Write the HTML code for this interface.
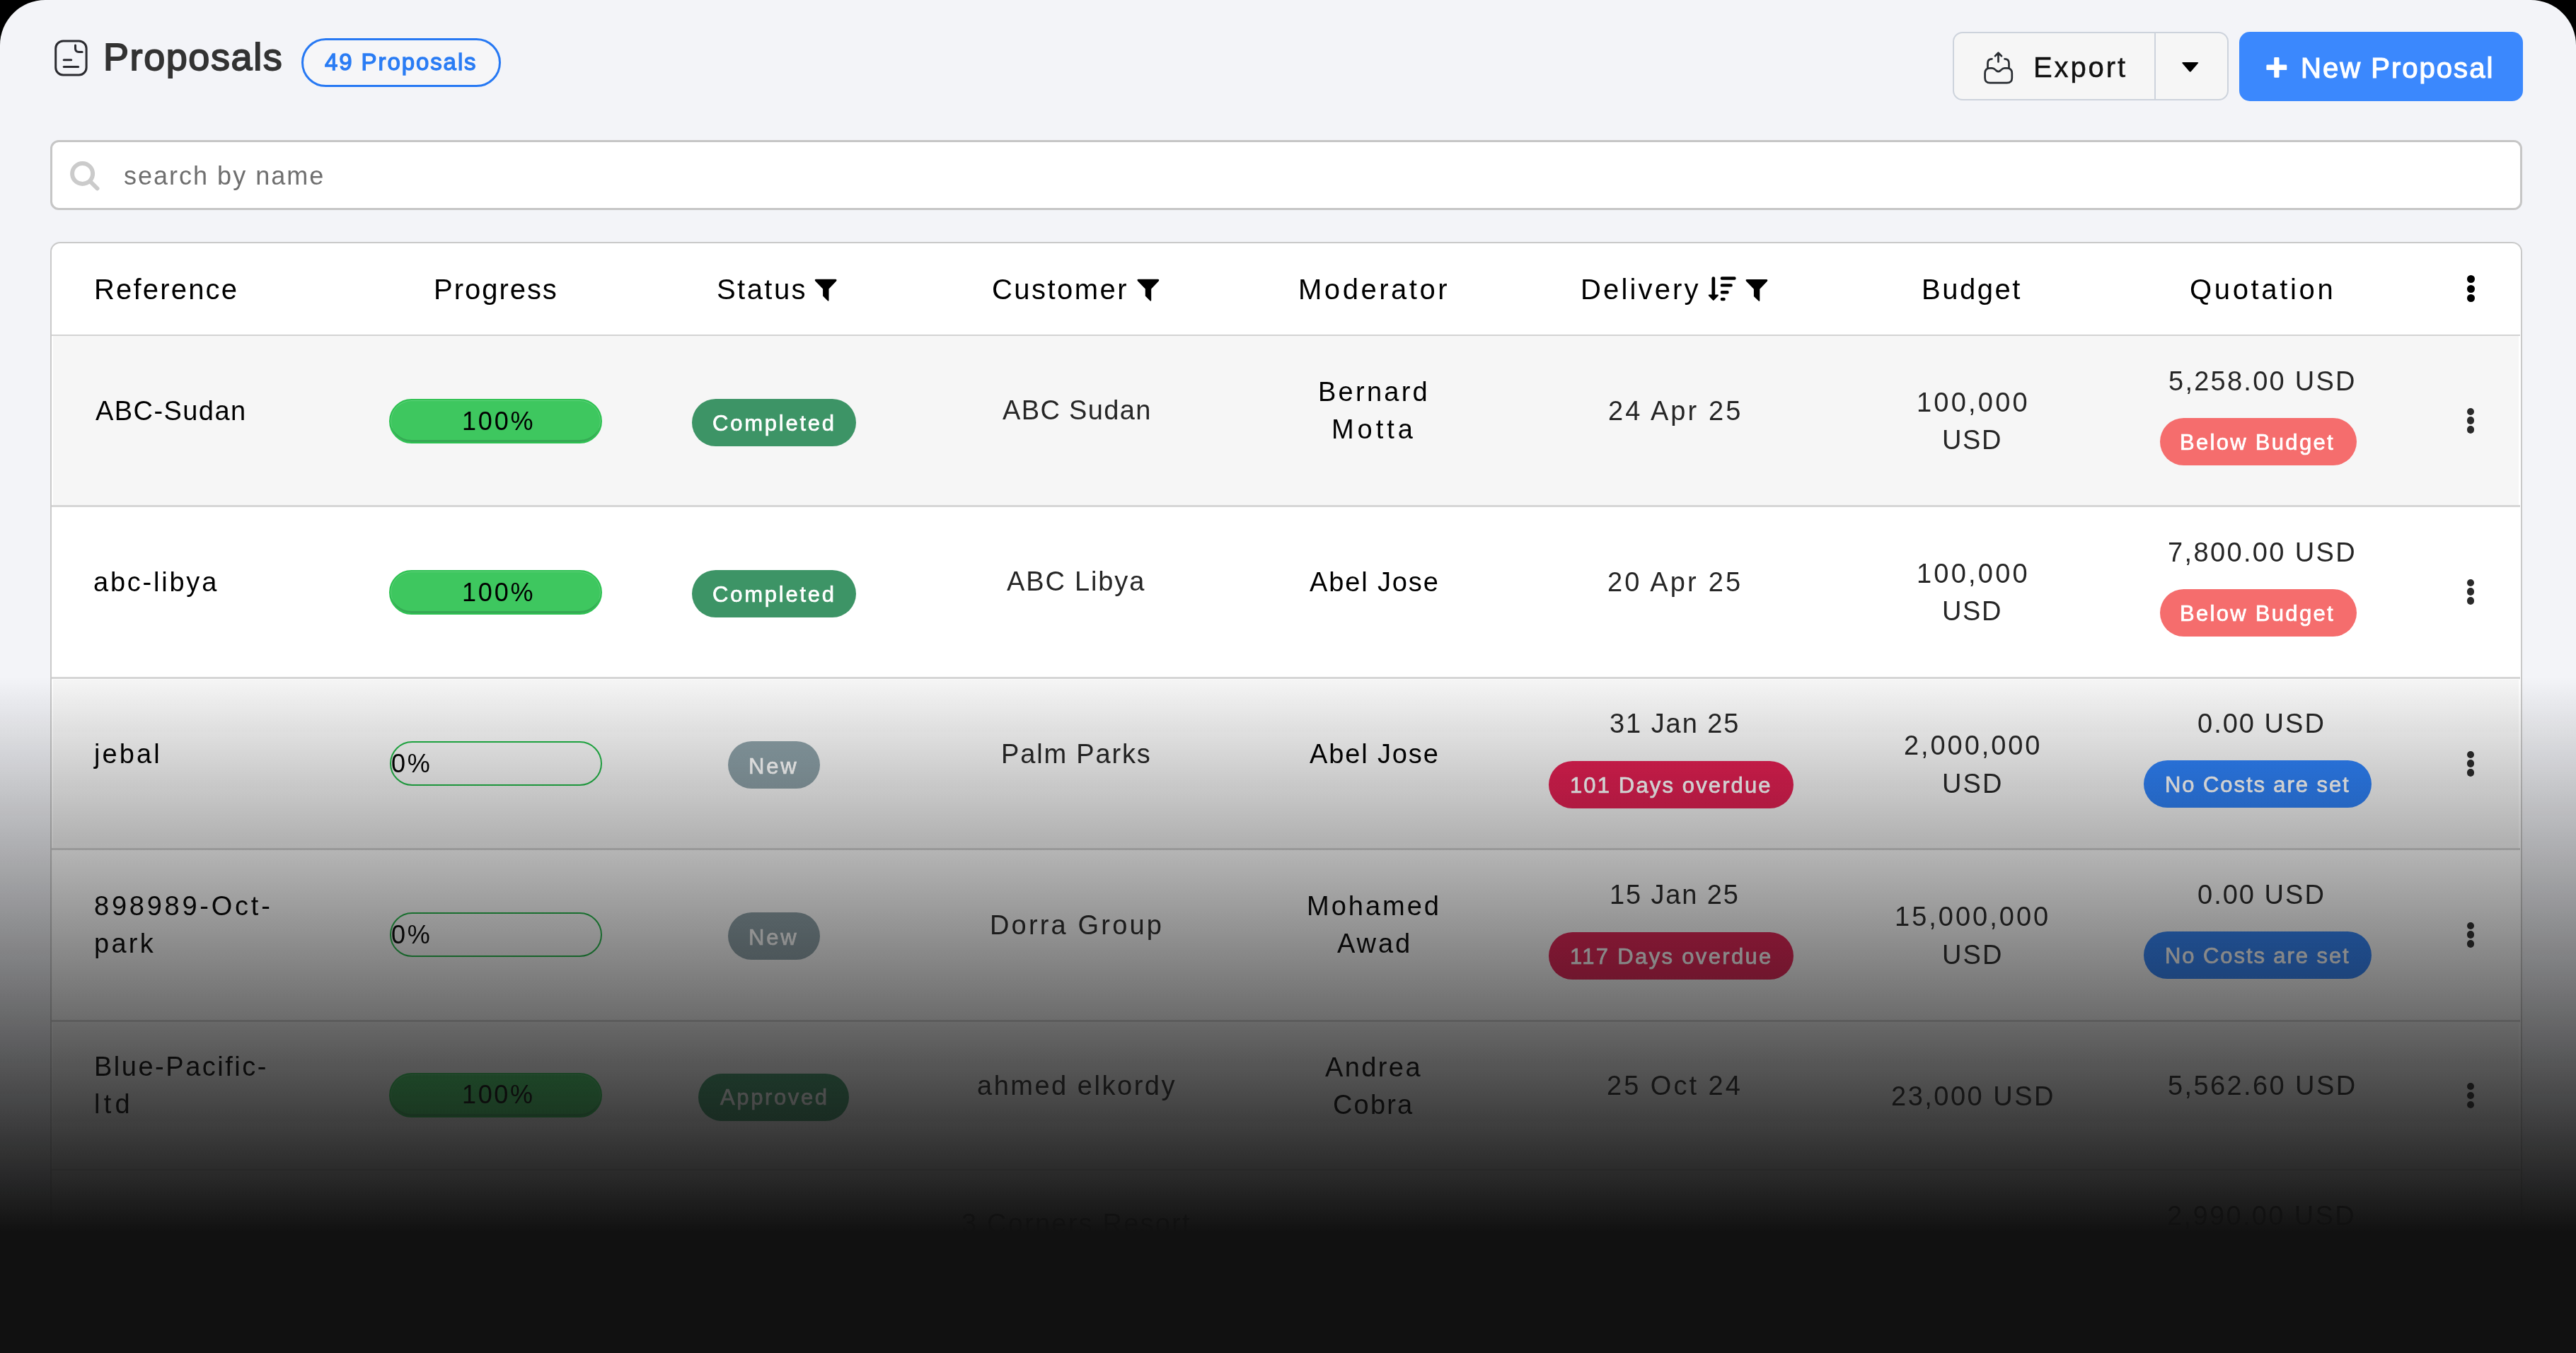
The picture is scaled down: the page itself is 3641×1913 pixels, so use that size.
<!DOCTYPE html>
<html><head><meta charset="utf-8"><title>Proposals</title>
<style>
html,body{margin:0;padding:0;}
body{width:3641px;height:1913px;background:#000;overflow:hidden;position:relative;font-family:"Liberation Sans", sans-serif;}
#page{position:absolute;left:0;top:0;width:3641px;height:1913px;background:#f3f4f8;border-radius:64px 64px 0 0;overflow:hidden;}
.t{position:absolute;white-space:nowrap;font-family:"Liberation Sans", sans-serif;will-change:transform;}
.bar{position:absolute;box-sizing:border-box;border:2px solid #2dc151;border-radius:32px;background:#3ec75f;box-shadow:inset 0 -4px 0 -1px #36a954, inset 0 0 0 1px rgba(255,255,255,0.18);}
.bar0{position:absolute;box-sizing:border-box;border:2.8px solid #1fb545;border-radius:32px;}
.badge{position:absolute;border-radius:34px;}
.dot{position:absolute;border-radius:50%;}
#overlay{position:absolute;left:0;top:0;width:3641px;height:1913px;background:linear-gradient(to bottom, rgba(17,17,17,0) 957px, rgba(17,17,17,1) 1742px);}
</style></head>
<body>
<div id="page">

  <!-- badge 49 proposals -->
  <div style="position:absolute;left:426px;top:54px;width:282px;height:69px;box-sizing:border-box;border:3px solid #2678f3;border-radius:35px;background:#f6f6f8"></div>

  <!-- export group -->
  <div style="position:absolute;left:2760px;top:45px;width:389.5px;height:97px;box-sizing:border-box;border:2.5px solid #cdd3dc;border-radius:14px;background:#f6f6f6"></div>
  <div style="position:absolute;left:3045.3px;top:46px;width:2.2px;height:95px;background:#cdd3dc"></div>
  <!-- new proposal -->
  <div style="position:absolute;left:3165px;top:45px;width:401px;height:97.5px;border-radius:15px;background:#3b88fd"></div>

  <!-- search box -->
  <div style="position:absolute;left:70.5px;top:197.8px;width:3494px;height:98.8px;box-sizing:border-box;border:3px solid #c6c6c6;border-radius:12px;background:#fff"></div>

  <!-- title icon -->
  <svg style="position:absolute;left:0;top:0" width="3641" height="300" viewBox="0 0 3641 300">
    <g fill="none" stroke="#2b2b30" stroke-width="3" stroke-linecap="round" stroke-linejoin="round">
      <rect x="78.7" y="58" width="43.4" height="48" rx="10.5" ry="10.5"/>
      <path d="M106.5,64 V68.5 Q106.5,73.5 111.5,73.5 H116.2"/>
      <path d="M90.2,84.8 H100.7"/>
      <path d="M90.2,94.4 H110.6"/>
    </g>
    <!-- export icon -->
    <g fill="none" stroke="#292d32" stroke-width="2.7" stroke-linecap="round" stroke-linejoin="round">
      <path d="M2812.8,96.3 H2815.6 C2818.8,96.3 2819.9,98.3 2821.7,99.9 C2823.4,101.3 2825.6,101.3 2827.3,99.9 C2829.1,98.3 2830.2,96.3 2833.4,96.3 H2836.6 Q2843.8,96.3 2843.8,103.5 V109.9 Q2843.8,117.1 2836.6,117.1 H2812.8 Q2805.6,117.1 2805.6,109.9 V103.5 Q2805.6,96.3 2812.8,96.3 Z"/>
      <path d="M2809.5,96 V89.3 Q2809.5,83.3 2815.5,83.3"/>
      <path d="M2839.5,96 V89.3 Q2839.5,83.3 2833.5,83.3"/>
      <path d="M2824.5,87.4 V75 M2820,79.2 L2824.5,74.7 L2829,79.2"/>
    </g>
    <!-- caret -->
    <path d="M3085.5,88 H3106 Q3108,88 3106.8,89.6 L3096.9,101 Q3095.7,102.2 3094.5,101 L3084.6,89.6 Q3083.4,88 3085.5,88 Z" fill="#000"/>
    <!-- plus -->
    <path d="M3214.2,82.2 Q3214.2,81 3215.4,81 H3220.3 Q3221.5,81 3221.5,82.2 V91.6 H3231.1 Q3232.3,91.6 3232.3,92.8 V97.9 Q3232.3,99.1 3231.1,99.1 H3221.5 V108.5 Q3221.5,109.7 3220.3,109.7 H3215.4 Q3214.2,109.7 3214.2,108.5 V99.1 H3204.6 Q3203.4,99.1 3203.4,97.9 V92.8 Q3203.4,91.6 3204.6,91.6 H3214.2 Z" fill="#fff"/>
    <!-- search icon -->
    <g fill="none" stroke="#cbcbcb" stroke-width="6" stroke-linecap="round">
      <circle cx="116.6" cy="245.5" r="14.5"/>
      <path d="M127.5,256.5 L137.5,266.5"/>
    </g>
  </svg>

  <!-- table card -->
  <div style="position:absolute;left:70.5px;top:342px;width:3494px;height:1600px;box-sizing:border-box;border:2.6px solid #c9c9c9;border-radius:14px;background:#fff"></div>
  <!-- row backgrounds -->
  <div style="position:absolute;left:75px;top:475px;width:3485px;height:240px;background:#f6f6f6"></div>
  <div style="position:absolute;left:75px;top:960.5px;width:3485px;height:239.5px;background:#f6f6f6"></div>
  <div style="position:absolute;left:75px;top:1445.5px;width:3485px;height:207px;background:#f6f6f6"></div>
  <!-- row borders -->
  <div style="position:absolute;left:73px;top:472.5px;width:3489px;height:2.5px;background:#d3d3d3"></div>
  <div style="position:absolute;left:73px;top:714px;width:3489px;height:2.5px;background:#d6d6d6"></div>
  <div style="position:absolute;left:73px;top:957px;width:3489px;height:2.5px;background:#d6d6d6"></div>
  <div style="position:absolute;left:73px;top:1199px;width:3489px;height:2.5px;background:#d6d6d6"></div>
  <div style="position:absolute;left:73px;top:1442px;width:3489px;height:2.5px;background:#d6d6d6"></div>
  <div style="position:absolute;left:73px;top:1652.5px;width:3489px;height:2.5px;background:#d6d6d6"></div>

  <div class="bar" style="left:550px;top:564.3px;width:301px;height:63px"></div>
<div class="badge" style="left:977.8px;top:564.3px;width:232.5px;height:67px;background:#3d9466"></div>
<div class="badge" style="left:3052.6px;top:591.3px;width:278.7000000000003px;height:67px;background:#f56d6d"></div>
<div class="bar" style="left:550px;top:806.3px;width:301px;height:63px"></div>
<div class="badge" style="left:977.8px;top:806.3px;width:232.5px;height:67px;background:#3d9466"></div>
<div class="badge" style="left:3052.6px;top:833.3px;width:278.7000000000003px;height:67px;background:#f56d6d"></div>
<div class="bar0" style="left:550.5px;top:1048.4px;width:300px;height:62.5px"></div>
<div class="badge" style="left:1028.9px;top:1048.4px;width:130.5999999999999px;height:67px;background:#8b9fa6"></div>
<div class="badge" style="left:2188.6px;top:1075.5px;width:346.2000000000003px;height:67px;background:#e11d50"></div>
<div class="badge" style="left:3030px;top:1075.4px;width:322.3000000000002px;height:67px;background:#2c80f8"></div>
<div class="bar0" style="left:550.5px;top:1290.4px;width:300px;height:62.5px"></div>
<div class="badge" style="left:1028.9px;top:1290.4px;width:130.5999999999999px;height:67px;background:#8b9fa6"></div>
<div class="badge" style="left:2188.6px;top:1317.5px;width:346.2000000000003px;height:67px;background:#e11d50"></div>
<div class="badge" style="left:3030px;top:1317.4px;width:322.3000000000002px;height:67px;background:#2c80f8"></div>
<div class="bar" style="left:550px;top:1516.7px;width:301px;height:63px"></div>
<div class="badge" style="left:986.8px;top:1518px;width:213.20000000000005px;height:67px;background:#3d9466"></div>

  <!-- header icons -->
  <svg style="position:absolute;left:0;top:300px" width="3641" height="200" viewBox="0 300 3641 200">
    <path transform="translate(1151.6 394.8)" d="M1.6,0 H29.4 Q31.6,0.3 30.6,2.4 L19.9,13.6 V29.6 Q19.7,31.6 18.2,30.4 L11.5,23.8 V13.6 L0.6,2.4 Q-0.6,0.3 1.6,0 Z" fill="#000"/>
    <path transform="translate(1607.3 394.8)" d="M1.6,0 H29.4 Q31.6,0.3 30.6,2.4 L19.9,13.6 V29.6 Q19.7,31.6 18.2,30.4 L11.5,23.8 V13.6 L0.6,2.4 Q-0.6,0.3 1.6,0 Z" fill="#000"/>
    <path transform="translate(2467.4 395.1)" d="M1.6,0 H29.4 Q31.6,0.3 30.6,2.4 L19.9,13.6 V29.6 Q19.7,31.6 18.2,30.4 L11.5,23.8 V13.6 L0.6,2.4 Q-0.6,0.3 1.6,0 Z" fill="#000"/>
    <g stroke="#000" stroke-linecap="round" fill="none">
      <path d="M2421.8,393.5 V417" stroke-width="4.7"/>
      <path d="M2433.9,393.5 H2451.5 M2433.9,403.4 H2446.6 M2433.9,413.2 H2441.5 M2433.9,423 H2436.6" stroke-width="4.4"/>
    </g>
    <path d="M2415.5,416.5 H2428.2 Q2429.6,416.8 2428.6,418.2 L2422.6,424.6 Q2421.8,425.4 2421,424.6 L2415.1,418.2 Q2414.1,416.8 2415.5,416.5 Z" fill="#000"/>
  </svg>

  <div class="dot" style="left:3486.90px;top:576.50px;width:10.6px;height:10.6px;background:#2a2a2a"></div>
<div class="dot" style="left:3486.90px;top:589.40px;width:10.6px;height:10.6px;background:#2a2a2a"></div>
<div class="dot" style="left:3486.90px;top:602.30px;width:10.6px;height:10.6px;background:#2a2a2a"></div>
<div class="dot" style="left:3486.90px;top:818.50px;width:10.6px;height:10.6px;background:#2a2a2a"></div>
<div class="dot" style="left:3486.90px;top:831.40px;width:10.6px;height:10.6px;background:#2a2a2a"></div>
<div class="dot" style="left:3486.90px;top:844.30px;width:10.6px;height:10.6px;background:#2a2a2a"></div>
<div class="dot" style="left:3486.90px;top:1061.50px;width:10.6px;height:10.6px;background:#2a2a2a"></div>
<div class="dot" style="left:3486.90px;top:1074.40px;width:10.6px;height:10.6px;background:#2a2a2a"></div>
<div class="dot" style="left:3486.90px;top:1087.30px;width:10.6px;height:10.6px;background:#2a2a2a"></div>
<div class="dot" style="left:3486.90px;top:1303.50px;width:10.6px;height:10.6px;background:#2a2a2a"></div>
<div class="dot" style="left:3486.90px;top:1316.40px;width:10.6px;height:10.6px;background:#2a2a2a"></div>
<div class="dot" style="left:3486.90px;top:1329.30px;width:10.6px;height:10.6px;background:#2a2a2a"></div>
<div class="dot" style="left:3486.90px;top:1530.80px;width:10.6px;height:10.6px;background:#2a2a2a"></div>
<div class="dot" style="left:3486.90px;top:1543.70px;width:10.6px;height:10.6px;background:#2a2a2a"></div>
<div class="dot" style="left:3486.90px;top:1556.60px;width:10.6px;height:10.6px;background:#2a2a2a"></div>
<div class="dot" style="left:3486.65px;top:389.40px;width:11.1px;height:11.1px;background:#000"></div>
<div class="dot" style="left:3486.65px;top:402.85px;width:11.1px;height:11.1px;background:#000"></div>
<div class="dot" style="left:3486.65px;top:416.30px;width:11.1px;height:11.1px;background:#000"></div>
  <div class="t" style="left:146.4px;top:52.7px;font-size:54px;line-height:54px;font-weight:400;letter-spacing:1.575px;color:#333;-webkit-text-stroke:1.8px #333">Proposals</div>
<div class="t" style="left:458.7px;top:71.0px;font-size:33px;line-height:33px;font-weight:400;letter-spacing:1.909px;color:#2a7cf4;-webkit-text-stroke:1.3px #2a7cf4">49 Proposals</div>
<div class="t" style="left:2874.3px;top:75.3px;font-size:40px;line-height:40px;font-weight:400;letter-spacing:2.88px;color:#111;-webkit-text-stroke:0.5px #111">Export</div>
<div class="t" style="left:3251.5px;top:75.7px;font-size:40px;line-height:40px;font-weight:400;letter-spacing:2.027px;color:#fff;-webkit-text-stroke:1.2px #fff">New Proposal</div>
<div class="t" style="left:175.1px;top:230.6px;font-size:36px;line-height:36px;font-weight:400;letter-spacing:2.008px;color:#6f6f6f">search by name</div>
<div class="t" style="left:132.8px;top:389.0px;font-size:40px;line-height:40px;font-weight:400;letter-spacing:2.188px;color:#000">Reference</div>
<div class="t" style="left:613.0px;top:389.0px;font-size:40px;line-height:40px;font-weight:400;letter-spacing:1.971px;color:#000">Progress</div>
<div class="t" style="left:1013.0px;top:389.0px;font-size:40px;line-height:40px;font-weight:400;letter-spacing:2.44px;color:#000">Status</div>
<div class="t" style="left:1402.3px;top:389.0px;font-size:40px;line-height:40px;font-weight:400;letter-spacing:2.443px;color:#000">Customer</div>
<div class="t" style="left:1834.7px;top:389.0px;font-size:40px;line-height:40px;font-weight:400;letter-spacing:3.537px;color:#000">Moderator</div>
<div class="t" style="left:2234.1px;top:389.0px;font-size:40px;line-height:40px;font-weight:400;letter-spacing:3.157px;color:#000">Delivery</div>
<div class="t" style="left:2716.3px;top:389.0px;font-size:40px;line-height:40px;font-weight:400;letter-spacing:2.54px;color:#000">Budget</div>
<div class="t" style="left:3094.8px;top:389.0px;font-size:40px;line-height:40px;font-weight:400;letter-spacing:3.65px;color:#000">Quotation</div>
<div class="t" style="left:134.6px;top:561.8px;font-size:38px;line-height:38px;font-weight:400;letter-spacing:1.425px;color:#000">ABC-Sudan</div>
<div class="t" style="left:652.6px;top:577.6px;font-size:36px;line-height:36px;font-weight:400;letter-spacing:2.8px;color:#000">100%</div>
<div class="t" style="left:1006.7px;top:582.5px;font-size:31px;line-height:31px;font-weight:400;letter-spacing:2.762px;color:#fff;-webkit-text-stroke:0.7px #fff">Completed</div>
<div class="t" style="left:1417.3px;top:561.3px;font-size:38px;line-height:38px;font-weight:400;letter-spacing:1.35px;color:#262626">ABC Sudan</div>
<div class="t" style="left:1862.9px;top:535.3px;font-size:38px;line-height:38px;font-weight:400;letter-spacing:3.25px;color:#000">Bernard</div>
<div class="t" style="left:1882.4px;top:588.4px;font-size:38px;line-height:38px;font-weight:400;letter-spacing:4.95px;color:#000">Motta</div>
<div class="t" style="left:2272.5px;top:561.8px;font-size:38px;line-height:38px;font-weight:400;letter-spacing:3.075px;color:#262626">24 Apr 25</div>
<div class="t" style="left:2708.9px;top:550.1px;font-size:38px;line-height:38px;font-weight:400;letter-spacing:3.217px;color:#262626">100,000</div>
<div class="t" style="left:2745.2px;top:603.2px;font-size:38px;line-height:38px;font-weight:400;letter-spacing:1.65px;color:#262626">USD</div>
<div class="t" style="left:3064.7px;top:520.2px;font-size:38px;line-height:38px;font-weight:400;letter-spacing:2.255px;color:#262626">5,258.00 USD</div>
<div class="t" style="left:3081.0px;top:609.9px;font-size:31px;line-height:31px;font-weight:400;letter-spacing:2.3px;color:#fff;-webkit-text-stroke:0.7px #fff">Below Budget</div>
<div class="t" style="left:131.8px;top:803.8px;font-size:38px;line-height:38px;font-weight:400;letter-spacing:2.775px;color:#000">abc-libya</div>
<div class="t" style="left:652.6px;top:819.6px;font-size:36px;line-height:36px;font-weight:400;letter-spacing:2.8px;color:#000">100%</div>
<div class="t" style="left:1006.7px;top:824.5px;font-size:31px;line-height:31px;font-weight:400;letter-spacing:2.762px;color:#fff;-webkit-text-stroke:0.7px #fff">Completed</div>
<div class="t" style="left:1423.0px;top:803.3px;font-size:38px;line-height:38px;font-weight:400;letter-spacing:1.85px;color:#262626">ABC Libya</div>
<div class="t" style="left:1851.1px;top:803.8px;font-size:38px;line-height:38px;font-weight:400;letter-spacing:1.863px;color:#000">Abel Jose</div>
<div class="t" style="left:2271.9px;top:803.8px;font-size:38px;line-height:38px;font-weight:400;letter-spacing:3.175px;color:#262626">20 Apr 25</div>
<div class="t" style="left:2708.9px;top:792.1px;font-size:38px;line-height:38px;font-weight:400;letter-spacing:3.217px;color:#262626">100,000</div>
<div class="t" style="left:2745.2px;top:845.2px;font-size:38px;line-height:38px;font-weight:400;letter-spacing:1.65px;color:#262626">USD</div>
<div class="t" style="left:3064.0px;top:762.2px;font-size:38px;line-height:38px;font-weight:400;letter-spacing:2.364px;color:#262626">7,800.00 USD</div>
<div class="t" style="left:3081.0px;top:851.9px;font-size:31px;line-height:31px;font-weight:400;letter-spacing:2.3px;color:#fff;-webkit-text-stroke:0.7px #fff">Below Budget</div>
<div class="t" style="left:133.2px;top:1046.8px;font-size:38px;line-height:38px;font-weight:400;letter-spacing:3.125px;color:#000">jebal</div>
<div class="t" style="left:553.0px;top:1061.5px;font-size:36px;line-height:36px;font-weight:400;letter-spacing:2.8px;color:#000">0%</div>
<div class="t" style="left:1057.6px;top:1067.5px;font-size:31px;line-height:31px;font-weight:400;letter-spacing:2.8px;color:#fff;-webkit-text-stroke:0.7px #fff">New</div>
<div class="t" style="left:1415.3px;top:1046.8px;font-size:38px;line-height:38px;font-weight:400;letter-spacing:1.833px;color:#262626">Palm Parks</div>
<div class="t" style="left:1851.1px;top:1046.8px;font-size:38px;line-height:38px;font-weight:400;letter-spacing:1.863px;color:#000">Abel Jose</div>
<div class="t" style="left:2274.5px;top:1004.0px;font-size:38px;line-height:38px;font-weight:400;letter-spacing:1.938px;color:#262626">31 Jan 25</div>
<div class="t" style="left:2218.6px;top:1094.9px;font-size:31px;line-height:31px;font-weight:400;letter-spacing:2.133px;color:#fff;-webkit-text-stroke:0.7px #fff">101 Days overdue</div>
<div class="t" style="left:2690.6px;top:1034.5px;font-size:38px;line-height:38px;font-weight:400;letter-spacing:2.925px;color:#262626">2,000,000</div>
<div class="t" style="left:2744.8px;top:1088.9px;font-size:38px;line-height:38px;font-weight:400;letter-spacing:2.1px;color:#262626">USD</div>
<div class="t" style="left:3106.4px;top:1004.0px;font-size:38px;line-height:38px;font-weight:400;letter-spacing:2.014px;color:#262626">0.00 USD</div>
<div class="t" style="left:3059.9px;top:1094.4px;font-size:31px;line-height:31px;font-weight:400;letter-spacing:1.92px;color:#fff;-webkit-text-stroke:0.7px #fff">No Costs are set</div>
<div class="t" style="left:132.6px;top:1262.3px;font-size:38px;line-height:38px;font-weight:400;letter-spacing:3.76px;color:#000">898989-Oct-</div>
<div class="t" style="left:132.6px;top:1315.4px;font-size:38px;line-height:38px;font-weight:400;letter-spacing:3.3px;color:#000">park</div>
<div class="t" style="left:553.0px;top:1303.5px;font-size:36px;line-height:36px;font-weight:400;letter-spacing:2.8px;color:#000">0%</div>
<div class="t" style="left:1057.6px;top:1309.5px;font-size:31px;line-height:31px;font-weight:400;letter-spacing:2.8px;color:#fff;-webkit-text-stroke:0.7px #fff">New</div>
<div class="t" style="left:1399.0px;top:1288.8px;font-size:38px;line-height:38px;font-weight:400;letter-spacing:3.17px;color:#262626">Dorra Group</div>
<div class="t" style="left:1847.0px;top:1262.3px;font-size:38px;line-height:38px;font-weight:400;letter-spacing:3.0px;color:#000">Mohamed</div>
<div class="t" style="left:1890.1px;top:1315.4px;font-size:38px;line-height:38px;font-weight:400;letter-spacing:2.933px;color:#000">Awad</div>
<div class="t" style="left:2275.3px;top:1246.0px;font-size:38px;line-height:38px;font-weight:400;letter-spacing:1.862px;color:#262626">15 Jan 25</div>
<div class="t" style="left:2218.6px;top:1336.9px;font-size:31px;line-height:31px;font-weight:400;letter-spacing:2.333px;color:#fff;-webkit-text-stroke:0.7px #fff">117 Days overdue</div>
<div class="t" style="left:2678.3px;top:1276.5px;font-size:38px;line-height:38px;font-weight:400;letter-spacing:3.0px;color:#262626">15,000,000</div>
<div class="t" style="left:2744.8px;top:1330.9px;font-size:38px;line-height:38px;font-weight:400;letter-spacing:2.1px;color:#262626">USD</div>
<div class="t" style="left:3106.4px;top:1246.0px;font-size:38px;line-height:38px;font-weight:400;letter-spacing:2.014px;color:#262626">0.00 USD</div>
<div class="t" style="left:3059.9px;top:1336.4px;font-size:31px;line-height:31px;font-weight:400;letter-spacing:1.92px;color:#fff;-webkit-text-stroke:0.7px #fff">No Costs are set</div>
<div class="t" style="left:133.3px;top:1489.0px;font-size:38px;line-height:38px;font-weight:400;letter-spacing:2.517px;color:#000">Blue-Pacific-</div>
<div class="t" style="left:133.3px;top:1542.0px;font-size:38px;line-height:38px;font-weight:400;letter-spacing:5.2px;color:#000">ltd</div>
<div class="t" style="left:653.0px;top:1529.5px;font-size:36px;line-height:36px;font-weight:400;letter-spacing:2.633px;color:#000">100%</div>
<div class="t" style="left:1018.1px;top:1536.4px;font-size:31px;line-height:31px;font-weight:400;letter-spacing:2.614px;color:#fff;-webkit-text-stroke:0.7px #fff">Approved</div>
<div class="t" style="left:1381.0px;top:1516.1px;font-size:38px;line-height:38px;font-weight:400;letter-spacing:2.517px;color:#262626">ahmed elkordy</div>
<div class="t" style="left:1872.8px;top:1489.7px;font-size:38px;line-height:38px;font-weight:400;letter-spacing:2.4px;color:#000">Andrea</div>
<div class="t" style="left:1883.7px;top:1542.8px;font-size:38px;line-height:38px;font-weight:400;letter-spacing:2.15px;color:#000">Cobra</div>
<div class="t" style="left:2271.3px;top:1515.6px;font-size:38px;line-height:38px;font-weight:400;letter-spacing:3.0px;color:#262626">25 Oct 24</div>
<div class="t" style="left:2672.5px;top:1531.0px;font-size:38px;line-height:38px;font-weight:400;letter-spacing:2.5px;color:#262626">23,000 USD</div>
<div class="t" style="left:3064.0px;top:1515.6px;font-size:38px;line-height:38px;font-weight:400;letter-spacing:2.4px;color:#262626">5,562.60 USD</div>
<div class="t" style="left:1359.4px;top:1711.0px;font-size:38px;line-height:38px;font-weight:400;letter-spacing:2.213px;color:#262626">3 Corners Resort</div>
<div class="t" style="left:3063.0px;top:1700.0px;font-size:38px;line-height:38px;font-weight:400;letter-spacing:2.364px;color:#262626">2,990.00 USD</div>

  <div id="overlay"></div>
</div>
</body></html>
